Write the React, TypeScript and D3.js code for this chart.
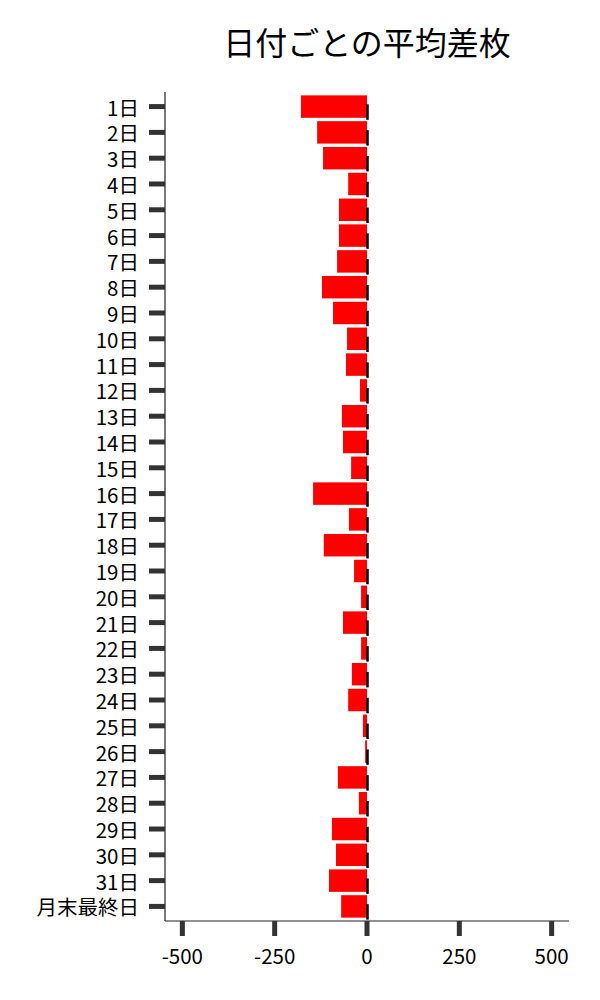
import * as d3 from 'd3';

const days = [
  '1日', '2日', '3日', '4日', '5日', '6日', '7日', '8日', '9日', '10日',
  '11日', '12日', '13日', '14日', '15日', '16日', '17日', '18日', '19日', '20日',
  '21日', '22日', '23日', '24日', '25日', '26日', '27日', '28日', '29日', '30日',
  '31日', '月末最終日',
];
const avgDiff = [
  -179, -135, -119, -51, -76, -76, -81, -122, -92, -54,
  -57, -19, -68, -65, -43, -146, -49, -117, -35, -16,
  -65, -16, -41, -51, -11, -5, -79, -22, -95, -84,
  -103, -70,
];
const xTicks = [-500, -250, 0, 250, 500];

const font = '"Noto Sans CJK JP", "Noto Sans", sans-serif';

export default function App() {
  const width = 600;
  const height = 1000;
  const left = 165;
  const right = 569;
  const top = 92;
  const bottom = 921;

  const x = d3.scaleLinear().domain([-547, 547]).range([left, right]);
  const y = d3.scaleBand().domain(days).range([top, bottom]).padding(0.13);
  const bw = y.bandwidth();
  const zero = x(0);

  return (
    <svg
      width={width}
      height={height}
      style={{ position: 'absolute', left: 0, top: 0, background: '#fff' }}
      fontFamily={font}
    >
      <text x={(left + right) / 2} y={55} fontSize={32} textAnchor="middle" fill="#000">
        日付ごとの平均差枚
      </text>
      {/* bars */}
      {days.map((d, i) => {
        const v = avgDiff[i];
        const y0 = y(d)!;
        return (
          <g key={d}>
            <rect x={x(Math.min(0, v))} y={y0} width={Math.abs(x(v) - zero)} height={bw} fill="#ff0000" />
            <line x1={zero + 0.5} x2={zero + 0.5} y1={y0 + bw * 0.4} y2={y0 + bw + 2} stroke="#000" strokeWidth={2.5} />
          </g>
        );
      })}
      {/* spines */}
      <line x1={left} x2={left} y1={top} y2={bottom} stroke="#222" strokeWidth={1.2} />
      <line x1={left} x2={right} y1={bottom} y2={bottom} stroke="#222" strokeWidth={1.2} />
      {/* y ticks */}
      {days.map((d) => {
        const cy = y(d)! + bw / 2;
        return (
          <g key={'yt' + d}>
            <line x1={149} x2={left} y1={cy} y2={cy} stroke="#333" strokeWidth={5} />
            <text x={139} y={cy} fontSize={20.5} textAnchor="end" dominantBaseline="central" fill="#000">
              {d}
            </text>
          </g>
        );
      })}
      {/* x ticks */}
      {xTicks.map((t) => (
        <g key={'xt' + t}>
          <line x1={x(t)} x2={x(t)} y1={bottom} y2={bottom + 15} stroke="#333" strokeWidth={5} />
          <text x={x(t)} y={964} fontSize={20.5} textAnchor="middle" fill="#000">
            {t}
          </text>
        </g>
      ))}
    </svg>
  );
}
